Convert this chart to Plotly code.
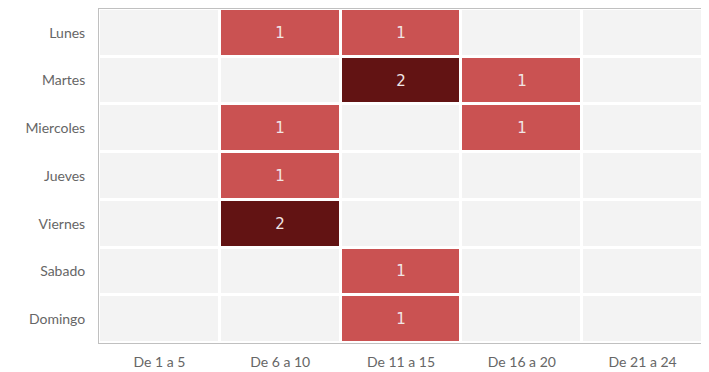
import plotly.graph_objects as go

rangos = ["De 1 a 5", "De 6 a 10", "De 11 a 15", "De 16 a 20", "De 21 a 24"]
dias = ["Lunes", "Martes", "Miercoles", "Jueves", "Viernes", "Sabado", "Domingo"]
valores = [
    [0, 1, 1, 0, 0],
    [0, 0, 2, 1, 0],
    [0, 1, 0, 1, 0],
    [0, 1, 0, 0, 0],
    [0, 2, 0, 0, 0],
    [0, 0, 1, 0, 0],
    [0, 0, 1, 0, 0],
]
textos = [[str(v) if v else "" for v in fila] for fila in valores]

colorscale = [
    [0.0, "#f3f3f3"], [0.3333, "#f3f3f3"],
    [0.3333, "#ca5252"], [0.6667, "#ca5252"],
    [0.6667, "#621313"], [1.0, "#621313"],
]

fig = go.Figure(go.Heatmap(
    z=valores, x=rangos, y=dias,
    zmin=-0.5, zmax=2.5,
    colorscale=colorscale, showscale=False,
    xgap=3, ygap=3,
    text=textos, texttemplate="%{text}",
    textfont=dict(family="DejaVu Sans", size=15, color="#f0e6e6"),
    hoverinfo="skip",
))

fig.update_layout(
    width=701, height=364,
    margin=dict(l=91, r=6, t=1, b=29),
    paper_bgcolor="white", plot_bgcolor="white",
    font=dict(family="Lato", size=14, color="#666666"),
)
fig.update_xaxes(showline=True, mirror=True, linecolor="#c0c0c0", linewidth=1,
                 ticks="outside", ticklen=6, tickcolor="white",
                 showgrid=False, zeroline=False, automargin=False,
                 tickfont=dict(family="Lato", size=14, color="#666666"))
fig.update_yaxes(autorange="reversed", showline=True, mirror=True, linecolor="#c0c0c0",
                 linewidth=1, ticks="outside", ticklen=10, tickcolor="white",
                 showgrid=False, zeroline=False, automargin=False,
                 tickfont=dict(family="Lato", size=14, color="#666666"))

fig.write_html("out.html")
